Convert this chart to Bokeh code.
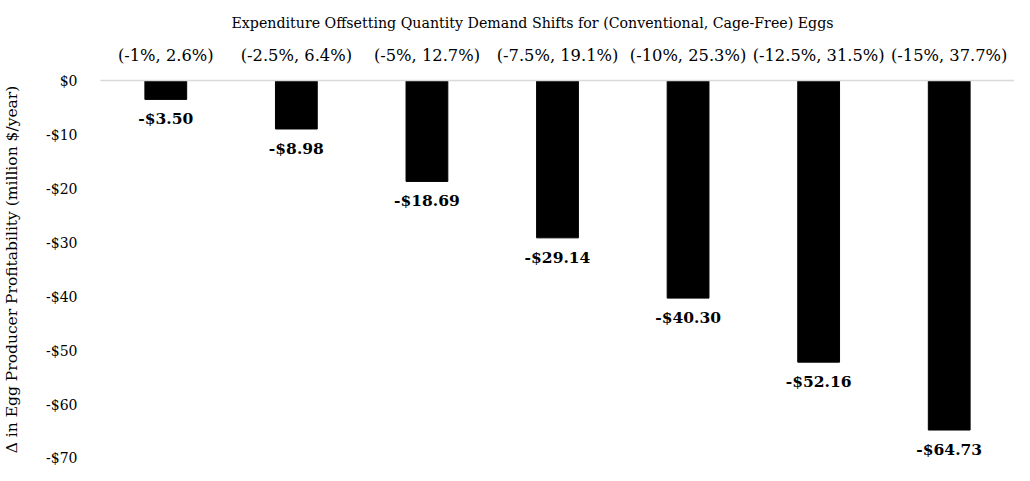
from bokeh.plotting import figure
from bokeh.models import ColumnDataSource, FactorRange, Range1d, CategoricalAxis, CustomJSTickFormatter, FixedTicker, Title
from bokeh.core.properties import value
from bokeh.embed import file_html
from bokeh.resources import INLINE

categories = ["(-1%, 2.6%)", "(-2.5%, 6.4%)", "(-5%, 12.7%)", "(-7.5%, 19.1%)",
              "(-10%, 25.3%)", "(-12.5%, 31.5%)", "(-15%, 37.7%)"]
values = [-3.50, -8.98, -18.69, -29.14, -40.30, -52.16, -64.73]
labels = ["-$%.2f" % abs(v) for v in values]
y_ticks = [0, -10, -20, -30, -40, -50, -60, -70]
title_text = "Expenditure Offsetting Quantity Demand Shifts for (Conventional, Cage-Free) Eggs"

FONT = "DejaVu Serif"

src = ColumnDataSource(dict(cat=categories, val=values, top=[0] * len(values), lab=labels))

p = figure(width=1014, height=465, output_backend="svg", toolbar_location=None,
           x_range=FactorRange(*categories, range_padding=0), y_range=Range1d(-70, 0),
           x_axis_location=None, min_border_left=94, min_border_right=0,
           min_border_top=71, min_border_bottom=7)
p.outline_line_color = None
p.grid.visible = False
p.title = Title(text=title_text, align="left", offset=131,
                text_font=FONT, text_font_style="normal", text_font_size="14.2px",
                text_color="black", standoff=24)

p.vbar(x="cat", top="top", bottom="val", width=0.32, source=src, color="black")
p.text(x="cat", y="val", text="lab", source=src, y_offset=10,
       text_align="center", text_baseline="top", text_font=value(FONT),
       text_font_style="bold", text_font_size="15.5px", text_color="black")

xa = CategoricalAxis()
xa.major_label_text_font = FONT
xa.major_label_text_font_size = "16.3px"
xa.major_label_text_color = "black"
xa.major_label_standoff = 10
xa.axis_line_color = "#d9d9d9"
xa.axis_line_width = 1.5
xa.major_tick_line_color = None
p.add_layout(xa, "above")

ya = p.yaxis[0]
ya.ticker = FixedTicker(ticks=y_ticks)
ya.formatter = CustomJSTickFormatter(code="return (tick < 0 ? '-$' + Math.abs(tick) : '$' + tick);")
ya.axis_line_color = None
ya.major_tick_line_color = None
ya.minor_tick_line_color = None
ya.major_label_text_font = FONT
ya.major_label_text_font_size = "14px"
ya.major_label_text_color = "black"
ya.major_label_standoff = 17
ya.axis_label = "Δ in Egg Producer Profitability (million $/year)"
ya.axis_label_text_font = FONT
ya.axis_label_text_font_style = "normal"
ya.axis_label_text_font_size = "15.5px"
ya.axis_label_text_color = "black"
ya.axis_label_standoff = 22

open("out.html", "w").write(file_html(p, INLINE))
